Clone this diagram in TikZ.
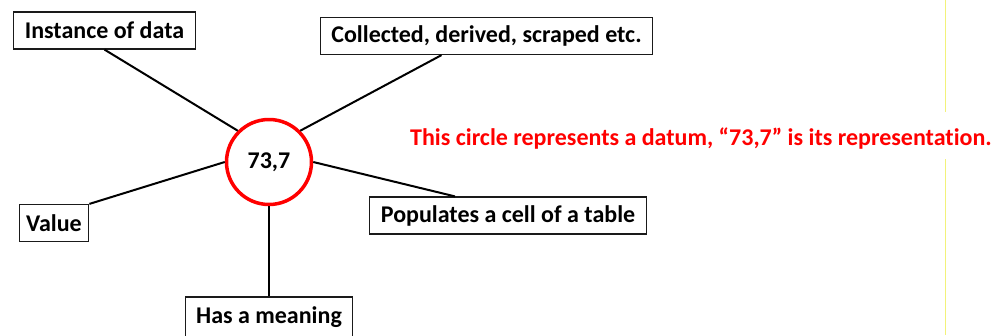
\documentclass[tikz,border=0pt]{standalone}
\usepackage{fontspec}
\setmainfont{Carlito}[Ligatures=NoCommon]
\usetikzlibrary{positioning}
\definecolor{dmRed}{HTML}{FF0000}
\definecolor{dmInk}{HTML}{1A1A1A}
\definecolor{dmEdge}{HTML}{F2F27A}

\begin{document}
\begin{tikzpicture}[x=1pt, y=-1pt,
  fact/.style={draw=dmInk, line width=1.2pt, fill=white, minimum height=37pt, inner xsep=11pt, font=\fontsize{24}{28}\selectfont\bfseries},
  datum/.style={circle, draw=dmRed, line width=3.5pt, fill=white, minimum size=85pt, inner sep=0pt, font=\fontsize{24}{28}\selectfont\bfseries},
  link/.style={line width=2pt, black},
  note/.style={fill=white, text=dmRed, inner sep=0pt, text height=33pt, text depth=14pt, font=\fontsize{24}{28}\selectfont\bfseries}]
\useasboundingbox (0,0) rectangle (1003,335);
% slide edge
\draw[dmEdge, line width=1pt] (945,0) -- (945,335);
% centre and its properties
\node[datum] (datum) at (269,162) {73,7};
\node[fact] (inst) at (104.5,30.5) {Instance of data};
\node[fact] (coll) at (486.5,36) {Collected, derived, scraped etc.};
\node[fact, inner xsep=7pt] (val) at (54,223) {Value};
\node[fact] (pop) at (508,215.5) {Populates a cell of a table};
\node[fact, minimum height=40pt] (mean) at (269,317) {Has a meaning};
\draw[link] (inst.south) -- (datum.135);
\draw[link] ([xshift=-45pt]coll.south) -- (datum.45);
\draw[link] (val.north east) -- (datum.180);
\draw[link] (datum.0) -- ([xshift=-53pt]pop.north);
\draw[link] (datum.south) -- (mean.north);
\node[note, anchor=north] (caption) at (701,112) {This circle represents a datum, “73,7” is its representation.};
\end{tikzpicture}
\end{document}
